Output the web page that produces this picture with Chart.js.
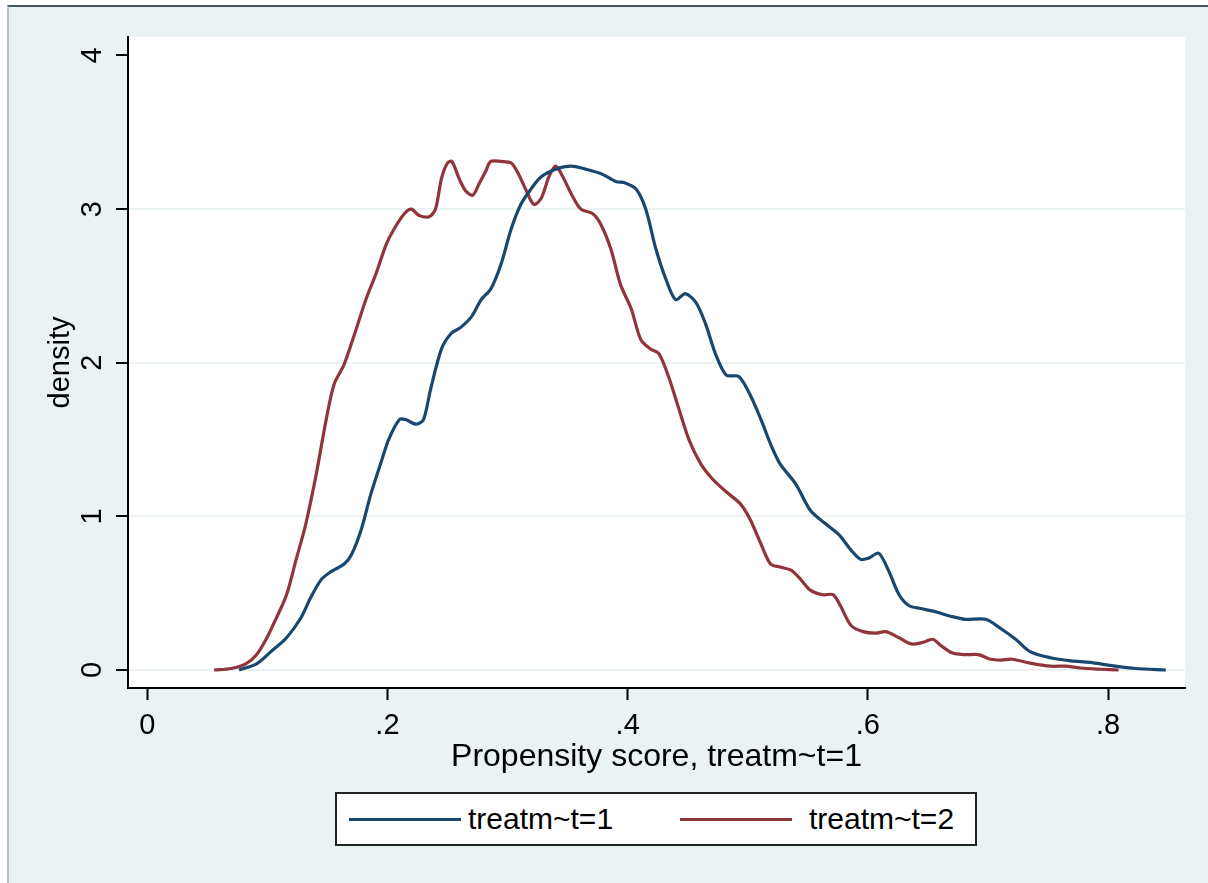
<!DOCTYPE html>
<html>
<head>
<meta charset="utf-8">
<script src="https://cdn.jsdelivr.net/npm/chart.js@4.4.1/dist/chart.umd.min.js"></script>
<style>
  html, body { margin: 0; padding: 0; background: #fff; }
  #frame { position: absolute; left: 7px; top: 5px; width: 1201px; height: 878px; background: #eaf2f3;
           border-top: 2px solid #46565f; border-left: 2px solid #b5bec3; box-sizing: border-box; }
  #wrap { position: absolute; left: 0; top: 0; width: 1208px; height: 883px; }
  #legend { position: absolute; left: 335px; top: 792px; width: 642px; height: 54px; box-sizing: border-box;
            border: 2px solid #222; background: #fff; font-family: "Liberation Sans", Arial, sans-serif;
            font-size: 30px; color: #000; }
  .swatch { position: absolute; top: 24px; height: 3px; }
  .txt { position: absolute; top: 0; line-height: 50px; }
</style>
</head>
<body>
<div id="frame"></div>
<div id="wrap"><canvas id="myChart" width="1208" height="883"></canvas></div>
<div id="legend">
  <div class="swatch" style="left:12px;width:112px;background:#1a476f"></div>
  <div class="txt" style="left:131px">treatm~t=1</div>
  <div class="swatch" style="left:343px;width:112px;background:#90353b"></div>
  <div class="txt" style="left:472px">treatm~t=2</div>
</div>
<script>
// kernel density, treatm~t=1
const blueX = [0.0765, 0.091, 0.103, 0.116, 0.128, 0.136, 0.145, 0.153, 0.164, 0.170, 0.178, 0.186, 0.195,
  0.201, 0.210, 0.215, 0.224, 0.230, 0.236, 0.245, 0.253, 0.261, 0.270, 0.278, 0.286, 0.2945, 0.303, 0.311,
  0.3195, 0.328, 0.340, 0.353, 0.365, 0.378, 0.390, 0.398, 0.407, 0.415, 0.4235, 0.432, 0.440, 0.448, 0.457,
  0.465, 0.473, 0.482, 0.4925, 0.502, 0.511, 0.519, 0.527, 0.540, 0.552, 0.565, 0.576, 0.586, 0.594, 0.601,
  0.609, 0.617, 0.626, 0.634, 0.644, 0.656, 0.669, 0.681, 0.698, 0.7105, 0.723, 0.735, 0.752, 0.769, 0.785,
  0.802, 0.823, 0.848];
const blueY = [0, 0.04, 0.12, 0.21, 0.34, 0.47, 0.59, 0.64, 0.69, 0.75, 0.91, 1.14, 1.36,
  1.50, 1.63, 1.63, 1.60, 1.63, 1.83, 2.09, 2.19, 2.23, 2.30, 2.41, 2.48, 2.64, 2.87, 3.03,
  3.13, 3.21, 3.26, 3.28, 3.26, 3.23, 3.18, 3.17, 3.13, 3.00, 2.74, 2.54, 2.41, 2.45, 2.39,
  2.25, 2.06, 1.92, 1.91, 1.79, 1.63, 1.47, 1.34, 1.21, 1.04, 0.95, 0.88, 0.78, 0.72, 0.73,
  0.76, 0.65, 0.49, 0.42, 0.40, 0.38, 0.35, 0.33, 0.33, 0.27, 0.20, 0.12, 0.08, 0.06, 0.05,
  0.03, 0.01, 0];

// kernel density, treatm~t=2
const redX = [0.0557, 0.070, 0.082, 0.091, 0.099, 0.107, 0.116, 0.124, 0.132, 0.1406, 0.149, 0.1556, 0.164,
  0.174, 0.182, 0.1905, 0.199, 0.2055, 0.214, 0.220, 0.226, 0.2346, 0.240, 0.245, 0.250, 0.2537, 0.2596,
  0.265, 0.271, 0.276, 0.282, 0.286, 0.2945, 0.303, 0.309, 0.315, 0.322, 0.328, 0.3344, 0.340, 0.346, 0.353,
  0.361, 0.371, 0.3777, 0.386, 0.394, 0.403, 0.411, 0.419, 0.426, 0.434, 0.4426, 0.451, 0.461, 0.471, 0.482,
  0.494, 0.502, 0.511, 0.519, 0.527, 0.536, 0.544, 0.552, 0.5624, 0.571, 0.577, 0.586, 0.596, 0.6065, 0.615,
  0.626, 0.636, 0.6456, 0.654, 0.6606, 0.6705, 0.681, 0.692, 0.702, 0.7105, 0.720, 0.735, 0.752, 0.7645,
  0.777, 0.794, 0.8087];
const redY = [0, 0.01, 0.04, 0.10, 0.20, 0.33, 0.49, 0.72, 0.95, 1.27, 1.63, 1.86, 1.99,
  2.22, 2.41, 2.58, 2.77, 2.87, 2.97, 3.00, 2.96, 2.95, 3.00, 3.20, 3.30, 3.31, 3.20,
  3.12, 3.09, 3.16, 3.25, 3.31, 3.31, 3.30, 3.23, 3.13, 3.03, 3.07, 3.21, 3.28, 3.21, 3.10,
  3.00, 2.97, 2.90, 2.74, 2.51, 2.35, 2.15, 2.09, 2.06, 1.91, 1.70, 1.50, 1.34, 1.24, 1.16,
  1.08, 0.98, 0.82, 0.69, 0.67, 0.65, 0.59, 0.52, 0.49, 0.49, 0.42, 0.29, 0.25, 0.24, 0.25,
  0.21, 0.17, 0.18, 0.20, 0.16, 0.11, 0.10, 0.10, 0.07, 0.065, 0.07, 0.045, 0.025, 0.025,
  0.013, 0.005, 0];

const xTickValues = [0, 0.2, 0.4, 0.6, 0.8];
const xTickLabels = ['0', '.2', '.4', '.6', '.8'];
const yTickValues = [0, 1, 2, 3, 4];
const yTickLabels = ['0', '1', '2', '3', '4'];

const FONT = '"Liberation Sans", Arial, sans-serif';

const plotBg = {
    id: 'plotBg',
    beforeDraw(chart) {
        const a = chart.chartArea, c = chart.ctx;
        c.save();
        c.fillStyle = '#ffffff';
        c.fillRect(a.left, a.top, a.right - a.left, a.bottom - a.top);
        c.restore();
    }
};

// y tick labels are rotated like Stata draws them
const yLabels = {
    id: 'yLabels',
    afterDraw(chart) {
        const y = chart.scales.y, c = chart.ctx;
        c.save();
        c.font = '29px ' + FONT;
        c.fillStyle = '#000';
        c.textAlign = 'center';
        c.textBaseline = 'middle';
        yTickValues.forEach((v, i) => {
            c.save();
            c.translate(93, y.getPixelForValue(v));
            c.rotate(-Math.PI / 2);
            c.fillText(yTickLabels[i], 0, 0);
            c.restore();
        });
        c.restore();
    }
};

const ctx = document.getElementById('myChart').getContext('2d');
new Chart(ctx, {
    type: 'line',
    data: {
        datasets: [{
                label: 'treatm~t=1',
                data: blueX.map((x, i) => ({ x: x, y: blueY[i] })),
                borderColor: '#1a476f',
                borderWidth: 3.2,
                pointRadius: 0,
                tension: 0.3,
                fill: false
            },
            {
                label: 'treatm~t=2',
                data: redX.map((x, i) => ({ x: x, y: redY[i] })),
                borderColor: '#90353b',
                borderWidth: 3.2,
                pointRadius: 0,
                tension: 0.3,
                fill: false
            }
        ]
    },
    options: {
        responsive: false,
        animation: false,
        layout: { padding: { left: 44, top: 37, right: 23, bottom: 107 } },
        scales: {
            x: {
                type: 'linear',
                min: -0.016,
                max: 0.864,
                afterBuildTicks: s => { s.ticks = xTickValues.map(v => ({ value: v })); },
                afterFit: s => { s.height = 88; },
                ticks: {
                    color: '#000',
                    font: { family: FONT, size: 29 },
                    padding: 9,
                    maxRotation: 0,
                    callback: v => xTickLabels[xTickValues.indexOf(v)]
                },
                grid: { drawOnChartArea: false, tickLength: 12, tickColor: '#000', tickWidth: 2 },
                border: { color: '#000', width: 2 },
                title: {
                    display: true,
                    text: 'Propensity score, treatm~t=1',
                    color: '#000',
                    font: { family: FONT, size: 32 },
                    padding: 0
                }
            },
            y: {
                min: -0.117,
                max: 4.12,
                afterBuildTicks: s => { s.ticks = yTickValues.map(v => ({ value: v })); },
                afterFit: s => { s.width = 84; },
                ticks: { display: false },
                grid: {
                    color: c => c.tick && c.tick.value === 4 ? 'rgba(0,0,0,0)' : '#eaf2f3',
                    lineWidth: 2,
                    tickLength: 12,
                    tickColor: '#000',
                    tickWidth: 2
                },
                border: { color: '#000', width: 2 },
                title: {
                    display: true,
                    text: 'density',
                    color: '#000',
                    font: { family: FONT, size: 29 },
                    padding: 0
                }
            }
        },
        plugins: {
            legend: { display: false },
            tooltip: { enabled: false }
        }
    },
    plugins: [plotBg, yLabels]
});
</script>
</body>
</html>
